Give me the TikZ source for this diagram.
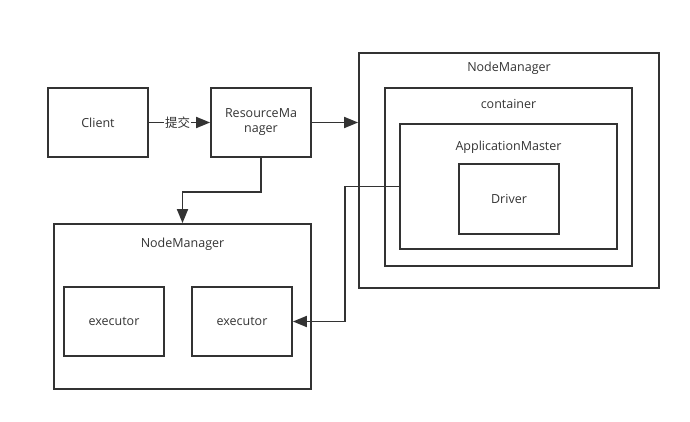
\documentclass[tikz,border=0pt]{standalone}
\usepackage{fontspec}
\setmainfont{Open Sans}
\newfontfamily\cjk{Noto Sans CJK SC}
\usetikzlibrary{arrows.meta}
\definecolor{ink}{HTML}{333333}

\begin{document}
\begin{tikzpicture}[x=1pt, y=-1pt, line width=1.8pt, draw=ink, text=ink,
  font=\fontsize{12.5}{15}\selectfont,
  box/.style={draw=ink, line width=1.8pt, inner sep=0pt},
  conn/.style={draw=ink, line width=1.8pt, -{Triangle[length=14pt, width=11pt]}}]

\useasboundingbox (0,0) rectangle (690,422);

% outer boxes
\node[box, minimum width=300pt, minimum height=235pt] (nmright) at (509,170.5) {};
\node[box, minimum width=247pt, minimum height=178pt] (cont) at (508.5,177) {};
\node[box, minimum width=217pt, minimum height=125pt] (am) at (508.5,186.5) {};
\node[box, minimum width=257pt, minimum height=165pt] (nmbottom) at (182.5,306.5) {};

% titles
\node (nmrighttext) at (509,68) {NodeManager};
\node (conttext) at (508.5,104) {container};
\node (amtext) at (508.5,147) {ApplicationMaster};
\node (nmbottomtext) at (182.5,244) {NodeManager};

% inner boxes
\node[box, minimum width=100pt, minimum height=69pt] (client) at (98,122.5) {Client};
\node[box, minimum width=100pt, minimum height=69pt, align=center] (rm) at (261,122.5) {ResourceMa\\nager};
\node[box, minimum width=100pt, minimum height=70pt] (driver) at (509,199) {Driver};
\node[box, minimum width=100pt, minimum height=69pt] (execA) at (114,321.5) {executor};
\node[box, minimum width=100pt, minimum height=69pt] (execB) at (242,321.5) {executor};

% connectors
\draw[conn] (client.east) -- node[fill=white, inner sep=1pt, xshift=-2pt] {\cjk 提交} (rm.east -| rm.west);
\draw[conn] (rm.east) -- (nmright.west |- rm.east);
\draw[conn] (rm.south) -- ++(0,34) -| (nmbottom.north);
\draw[conn] (am.west) -- ++(-54,0) |- (execB.east);

\end{tikzpicture}
\end{document}
